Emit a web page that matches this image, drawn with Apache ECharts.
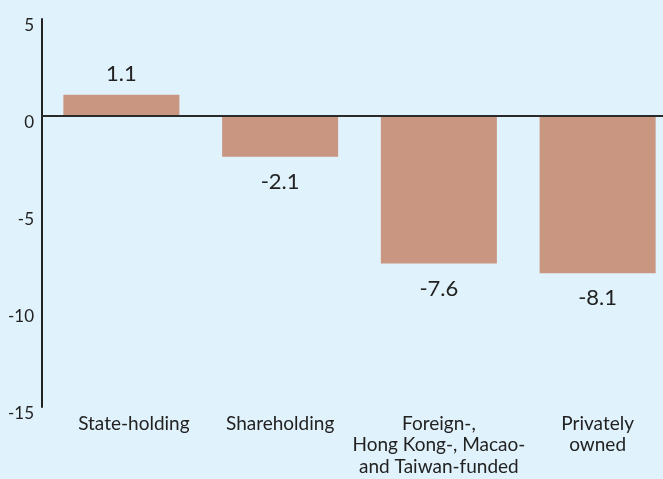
<!DOCTYPE html>
<html><head><meta charset="utf-8">
<style>html,body{margin:0;padding:0;background:#e0f2fb;}#c{width:663px;height:479px;}</style>
<script src="https://cdn.jsdelivr.net/npm/echarts@6/dist/echarts.min.js"></script>
</head><body><div id="c"></div>
<script>
const categories = ["State-holding", "Shareholding", "Foreign-,\nHong Kong-, Macao-\nand Taiwan-funded", "Privately\nowned"];
const values = [1.1, -2.1, -7.6, -8.1];
const yTicks = [-15, -10, -5, 0, 5];

const chart = echarts.init(document.getElementById('c'));
chart.setOption({
  backgroundColor: '#e0f2fb',
  animation: false,
  grid: {left: 42, width: 635, top: 19, bottom: 72, containLabel: false, outerBoundsMode: 'none'},
  xAxis: {
    type: 'category',
    data: categories.map((c, i) => i === 0 ? {value: c, textStyle: {padding: [0, 0, 0, 25]}} : c),
    axisLine: {show: false, onZero: false}, axisTick: {show: false},
    axisLabel: {color: '#222', fontSize: 19, fontFamily: 'Lato', lineHeight: 21.5, margin: 6, interval: 0}
  },
  yAxis: {
    type: 'value', min: yTicks[0], max: yTicks[yTicks.length-1], interval: 5,
    axisLine: {show: true, lineStyle: {color: '#222', width: 2}},
    axisTick: {show: false}, splitLine: {show: false},
    axisLabel: {
      color: '#222', fontSize: 17, fontFamily: 'Lato', margin: 8, verticalAlign: 'middle',
      formatter: '{v|{value}}',
      rich: {v: {color: '#222', fontSize: 17, fontFamily: 'Lato', padding: [13, 0, 0, 0]}}
    }
  },
  series: [{
    type: 'bar',
    data: values.map(v => ({value: v, label: {position: v >= 0 ? 'top' : 'bottom', distance: v >= 0 ? 10 : 14}})),
    barWidth: 116,
    itemStyle: {color: '#c99681'},
    label: {show: true, color: '#222', fontSize: 22, fontFamily: 'Lato'},
    markLine: {
      silent: true, symbol: 'none', label: {show: false},
      lineStyle: {color: '#2a2a2a', width: 2, type: 'solid'},
      data: [{yAxis: 0}]
    }
  }]
});
</script></body></html>
